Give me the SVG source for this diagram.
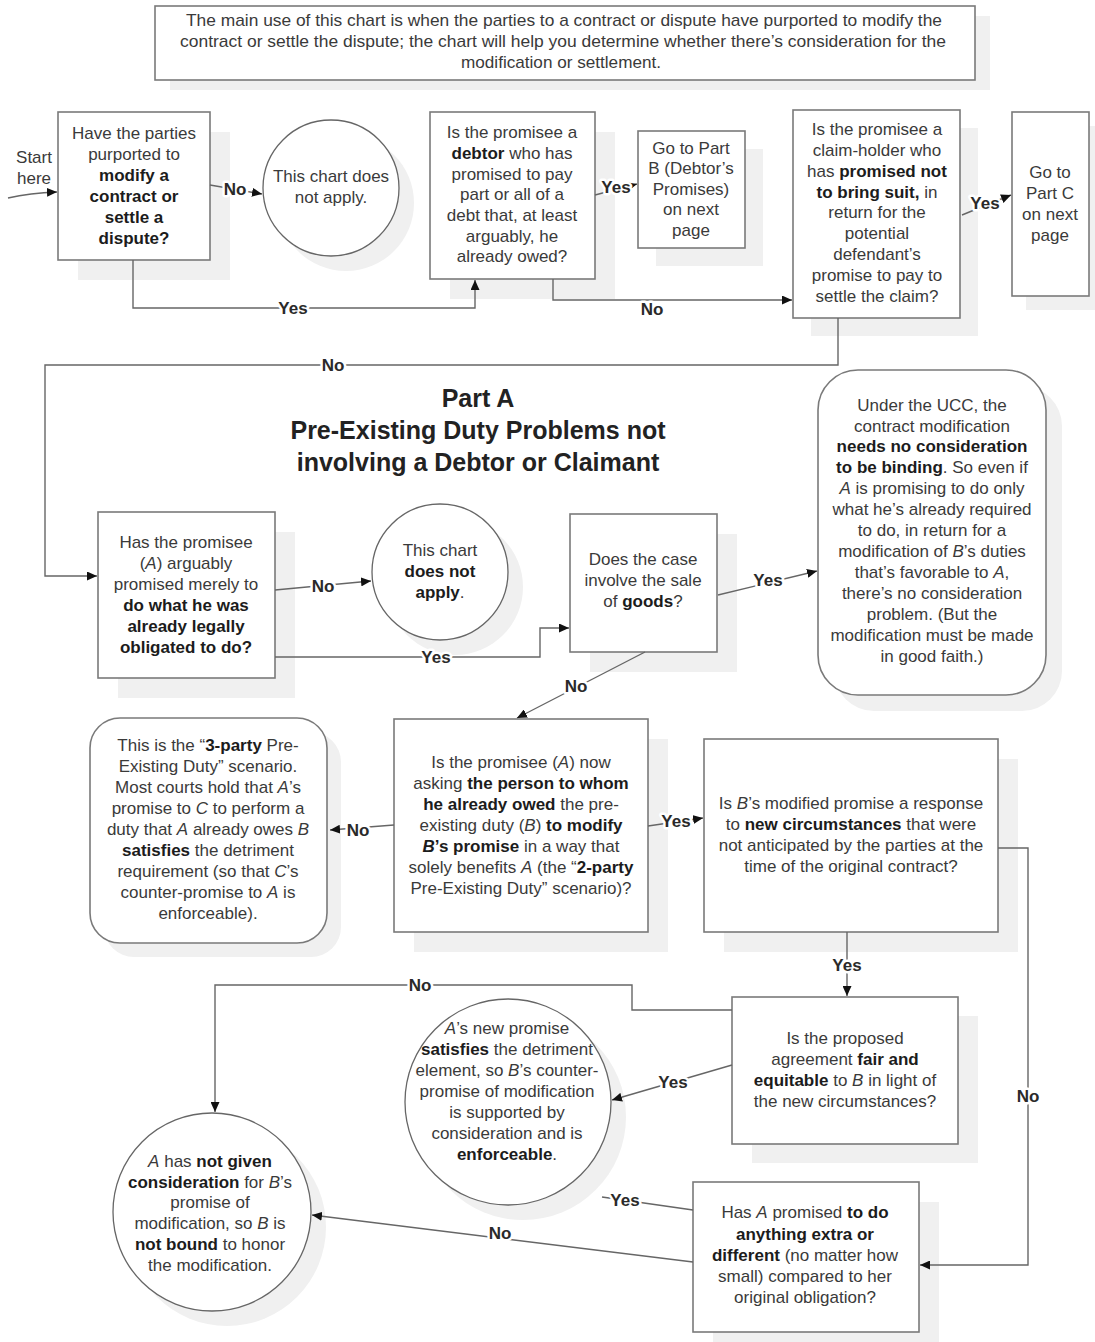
<svg xmlns="http://www.w3.org/2000/svg" width="1095" height="1342" viewBox="0 0 1095 1342">
  <defs>
    <marker id="arrow" markerUnits="userSpaceOnUse" markerWidth="11" markerHeight="9" refX="10" refY="4.5" orient="auto">
      <path d="M0,0 L10,4.5 L0,9 z" fill="#111"/>
    </marker>
    <style>
      .box { fill: #fff; stroke: #7a7a7a; stroke-width: 1.6; }
      .ring { fill: #fff; stroke: #666; stroke-width: 1.3; }
      .shadow { fill: #f0f0f0; }
      .t { font-family: "Liberation Sans", Arial, sans-serif; font-size: 17px; fill: #3a3a3a; text-anchor: middle; }
      .b { font-weight: bold; fill: #1c1c1c; }
      .i { font-style: italic; }
      .title { font-family: "Liberation Sans", Arial, sans-serif; font-size: 25px; font-weight: bold; fill: #222; text-anchor: middle; }
      .conn { fill: none; stroke: #666; stroke-width: 1.4; }
      .arr { marker-end: url(#arrow); }
      .lbl { font-family: "Liberation Sans", Arial, sans-serif; font-size: 17px; font-weight: bold; fill: #2a2a2a; text-anchor: middle; stroke: #fff; stroke-width: 5; paint-order: stroke; stroke-linejoin: round; }
    </style>
  </defs>

  <rect width="1095" height="1342" fill="#fff"/>

  <!-- intro note -->
  <g id="intro">
    <rect class="shadow" x="170" y="16" width="820" height="74"/>
    <rect class="box" x="155" y="6" width="820" height="74"/>
    <text class="t" x="564" y="26" textLength="756" lengthAdjust="spacingAndGlyphs">The main use of this chart is when the parties to a contract or dispute have purported to modify the</text>
    <text class="t" x="563" y="47" textLength="766" lengthAdjust="spacingAndGlyphs">contract or settle the dispute; the chart will help you determine whether there’s consideration for the</text>
    <text class="t" x="561" y="68" textLength="200" lengthAdjust="spacingAndGlyphs">modification or settlement.</text>
  </g>

  <g id="start">
    <text class="t" x="34" y="163">Start</text>
    <text class="t" x="34" y="184">here</text>
  </g>

  <g id="q-purported">
    <rect class="shadow" x="78" y="132" width="152" height="148"/>
    <rect class="box" x="58" y="112" width="152" height="148"/>
    <text class="t" x="134" y="139">Have the parties</text>
    <text class="t" x="134" y="160">purported to</text>
    <text class="t b" x="134" y="181">modify a</text>
    <text class="t b" x="134" y="202">contract or</text>
    <text class="t b" x="134" y="223">settle a</text>
    <text class="t b" x="134" y="244">dispute?</text>
  </g>

  <g id="end-not-apply-1">
    <circle class="shadow" cx="346" cy="203" r="68"/>
    <circle class="ring" cx="331" cy="188" r="68"/>
    <text class="t" x="331" y="182">This chart does</text>
    <text class="t" x="331" y="203">not apply.</text>
  </g>

  <g id="q-debtor">
    <rect class="shadow" x="450" y="132" width="165" height="167"/>
    <rect class="box" x="430" y="112" width="165" height="167"/>
    <text class="t" x="512" y="138">Is the promisee a</text>
    <text class="t" x="512" y="159"><tspan class="b">debtor</tspan> who has</text>
    <text class="t" x="512" y="180">promised to pay</text>
    <text class="t" x="512" y="200">part or all of a</text>
    <text class="t" x="512" y="221">debt that, at least</text>
    <text class="t" x="512" y="242">arguably, he</text>
    <text class="t" x="512" y="262">already owed?</text>
  </g>

  <g id="goto-part-b">
    <rect class="shadow" x="656" y="149" width="107" height="117"/>
    <rect class="box" x="638" y="131" width="107" height="117"/>
    <text class="t" x="691" y="154">Go to Part</text>
    <text class="t" x="691" y="174">B (Debtor’s</text>
    <text class="t" x="691" y="195">Promises)</text>
    <text class="t" x="691" y="215">on next</text>
    <text class="t" x="691" y="236">page</text>
  </g>

  <g id="q-claim-holder">
    <rect class="shadow" x="811" y="128" width="167" height="208"/>
    <rect class="box" x="793" y="110" width="167" height="208"/>
    <text class="t" x="877" y="135">Is the promisee a</text>
    <text class="t" x="877" y="156">claim-holder who</text>
    <text class="t" x="877" y="177">has <tspan class="b">promised not</tspan></text>
    <text class="t" x="877" y="198"><tspan class="b">to bring suit,</tspan> in</text>
    <text class="t" x="877" y="218">return for the</text>
    <text class="t" x="877" y="239">potential</text>
    <text class="t" x="877" y="260">defendant’s</text>
    <text class="t" x="877" y="281">promise to pay to</text>
    <text class="t" x="877" y="302">settle the claim?</text>
  </g>

  <g id="goto-part-c">
    <rect class="shadow" x="1026" y="126" width="69" height="184"/>
    <rect class="box" x="1012" y="112" width="77" height="184"/>
    <text class="t" x="1050" y="178">Go to</text>
    <text class="t" x="1050" y="199">Part C</text>
    <text class="t" x="1050" y="220">on next</text>
    <text class="t" x="1050" y="241">page</text>
  </g>

  <!-- section heading -->
  <g id="heading">
    <text class="title" x="478" y="407">Part A</text>
    <text class="title" x="478" y="439">Pre-Existing Duty Problems not</text>
    <text class="title" x="478" y="471">involving a Debtor or Claimant</text>
  </g>

  <g id="q-already-obligated">
    <rect class="shadow" x="118" y="532" width="177" height="166"/>
    <rect class="box" x="98" y="512" width="177" height="166"/>
    <text class="t" x="186" y="548">Has the promisee</text>
    <text class="t" x="186" y="569">(<tspan class="i">A</tspan>) arguably</text>
    <text class="t" x="186" y="590">promised merely to</text>
    <text class="t b" x="186" y="611">do what he was</text>
    <text class="t b" x="186" y="632">already legally</text>
    <text class="t b" x="186" y="653">obligated to do?</text>
  </g>

  <g id="end-not-apply-2">
    <circle class="shadow" cx="455" cy="587" r="68"/>
    <circle class="ring" cx="440" cy="572" r="68"/>
    <text class="t" x="440" y="556">This chart</text>
    <text class="t b" x="440" y="577">does not</text>
    <text class="t" x="440" y="598"><tspan class="b">apply</tspan>.</text>
  </g>

  <g id="q-sale-of-goods">
    <rect class="shadow" x="590" y="534" width="147" height="138"/>
    <rect class="box" x="570" y="514" width="147" height="138"/>
    <text class="t" x="643" y="565">Does the case</text>
    <text class="t" x="643" y="586">involve the sale</text>
    <text class="t" x="643" y="607">of <tspan class="b">goods</tspan>?</text>
  </g>

  <g id="ucc-note">
    <rect class="shadow" x="834" y="386" width="228" height="325" rx="40"/>
    <rect class="box" x="818" y="370" width="228" height="325" rx="40"/>
    <text class="t" x="932" y="411">Under the UCC, the</text>
    <text class="t" x="932" y="432">contract modification</text>
    <text class="t b" x="932" y="452">needs no consideration</text>
    <text class="t" x="932" y="473"><tspan class="b">to be binding</tspan>. So even if</text>
    <text class="t" x="932" y="494"><tspan class="i">A</tspan> is promising to do only</text>
    <text class="t" x="932" y="515">what he’s already required</text>
    <text class="t" x="932" y="536">to do, in return for a</text>
    <text class="t" x="932" y="557">modification of <tspan class="i">B</tspan>’s duties</text>
    <text class="t" x="932" y="578">that’s favorable to <tspan class="i">A</tspan>,</text>
    <text class="t" x="932" y="599">there’s no consideration</text>
    <text class="t" x="932" y="620">problem. (But the</text>
    <text class="t" x="932" y="641">modification must be made</text>
    <text class="t" x="932" y="662">in good faith.)</text>
  </g>

  <g id="three-party-note">
    <rect class="shadow" x="104" y="732" width="237" height="225" rx="30"/>
    <rect class="box" x="90" y="718" width="237" height="225" rx="30"/>
    <text class="t" x="208" y="751">This is the “<tspan class="b">3-party</tspan> Pre-</text>
    <text class="t" x="208" y="772">Existing Duty” scenario.</text>
    <text class="t" x="208" y="793">Most courts hold that <tspan class="i">A</tspan>’s</text>
    <text class="t" x="208" y="814">promise to <tspan class="i">C</tspan> to perform a</text>
    <text class="t" x="208" y="835">duty that <tspan class="i">A</tspan> already owes <tspan class="i">B</tspan></text>
    <text class="t" x="208" y="856"><tspan class="b">satisfies</tspan> the detriment</text>
    <text class="t" x="208" y="877">requirement (so that <tspan class="i">C</tspan>’s</text>
    <text class="t" x="208" y="898">counter-promise to <tspan class="i">A</tspan> is</text>
    <text class="t" x="208" y="919">enforceable).</text>
  </g>

  <g id="q-two-party">
    <rect class="shadow" x="414" y="739" width="254" height="213"/>
    <rect class="box" x="394" y="719" width="254" height="213"/>
    <text class="t" x="521" y="768">Is the promisee (<tspan class="i">A</tspan>) now</text>
    <text class="t" x="521" y="789">asking <tspan class="b">the person to whom</tspan></text>
    <text class="t" x="521" y="810"><tspan class="b">he already owed</tspan> the pre-</text>
    <text class="t" x="521" y="831">existing duty (<tspan class="i">B</tspan>) <tspan class="b">to modify</tspan></text>
    <text class="t" x="521" y="852"><tspan class="b"><tspan class="i">B</tspan>’s promise</tspan> in a way that</text>
    <text class="t" x="521" y="873">solely benefits <tspan class="i">A</tspan> (the “<tspan class="b">2-party</tspan></text>
    <text class="t" x="521" y="894">Pre-Existing Duty” scenario)?</text>
  </g>

  <g id="q-new-circumstances">
    <rect class="shadow" x="724" y="759" width="294" height="193"/>
    <rect class="box" x="704" y="739" width="294" height="193"/>
    <text class="t" x="851" y="809">Is <tspan class="i">B</tspan>’s modified promise a response</text>
    <text class="t" x="851" y="830">to <tspan class="b">new circumstances</tspan> that were</text>
    <text class="t" x="851" y="851">not anticipated by the parties at the</text>
    <text class="t" x="851" y="872">time of the original contract?</text>
  </g>

  <g id="q-fair-equitable">
    <rect class="shadow" x="752" y="1016" width="226" height="147"/>
    <rect class="box" x="732" y="997" width="226" height="147"/>
    <text class="t" x="845" y="1044">Is the proposed</text>
    <text class="t" x="845" y="1065">agreement <tspan class="b">fair and</tspan></text>
    <text class="t" x="845" y="1086"><tspan class="b">equitable</tspan> to <tspan class="i">B</tspan> in light of</text>
    <text class="t" x="845" y="1107">the new circumstances?</text>
  </g>

  <g id="end-enforceable">
    <circle class="shadow" cx="523" cy="1117" r="103"/>
    <circle class="ring" cx="508" cy="1102" r="103"/>
    <text class="t" x="507" y="1034"><tspan class="i">A</tspan>’s new promise</text>
    <text class="t" x="507" y="1055"><tspan class="b">satisfies</tspan> the detriment</text>
    <text class="t" x="507" y="1076">element, so <tspan class="i">B</tspan>’s counter-</text>
    <text class="t" x="507" y="1097">promise of modification</text>
    <text class="t" x="507" y="1118">is supported by</text>
    <text class="t" x="507" y="1139">consideration and is</text>
    <text class="t" x="507" y="1160"><tspan class="b">enforceable</tspan>.</text>
  </g>

  <g id="end-not-bound">
    <circle class="shadow" cx="227" cy="1227" r="99"/>
    <circle class="ring" cx="212" cy="1212" r="99"/>
    <text class="t" x="210" y="1167"><tspan class="i">A</tspan> has <tspan class="b">not given</tspan></text>
    <text class="t" x="210" y="1188"><tspan class="b">consideration</tspan> for <tspan class="i">B</tspan>’s</text>
    <text class="t" x="210" y="1208">promise of</text>
    <text class="t" x="210" y="1229">modification, so <tspan class="i">B</tspan> is</text>
    <text class="t" x="210" y="1250"><tspan class="b">not bound</tspan> to honor</text>
    <text class="t" x="210" y="1271">the modification.</text>
  </g>

  <g id="q-extra-different">
    <rect class="shadow" x="713" y="1202" width="226" height="150"/>
    <rect class="box" x="693" y="1182" width="226" height="150"/>
    <text class="t" x="805" y="1218">Has <tspan class="i">A</tspan> promised <tspan class="b">to do</tspan></text>
    <text class="t b" x="805" y="1240">anything extra or</text>
    <text class="t" x="805" y="1261"><tspan class="b">different</tspan> (no matter how</text>
    <text class="t" x="805" y="1282">small) compared to her</text>
    <text class="t" x="805" y="1303">original obligation?</text>
  </g>

  <!-- connectors -->
  <g id="connectors">
    <path class="conn arr" d="M8,198 Q30,193 57,192"/>
    <path class="conn arr" d="M210,185 L262,194"/>
    <path class="conn arr" d="M133,260 V308 H475 V280"/>
    <path class="conn arr" d="M595,195 L637,184"/>
    <path class="conn arr" d="M553,279 V300 H792"/>
    <path class="conn arr" d="M962,215 L1011,195"/>
    <path class="conn arr" d="M838,318 V365 H45 V576 H97"/>
    <path class="conn arr" d="M275,590 L371,581"/>
    <path class="conn arr" d="M275,657 H540 V628 H569"/>
    <path class="conn arr" d="M718,595 L817,571"/>
    <path class="conn arr" d="M645,652 L517,718"/>
    <path class="conn arr" d="M394,825 L330,830"/>
    <path class="conn arr" d="M648,826 L703,818"/>
    <path class="conn arr" d="M847,932 V996"/>
    <path class="conn arr" d="M998,848 H1028 V1265 H920"/>
    <path class="conn arr" d="M732,1010 H632 V985 H215 V1112"/>
    <path class="conn arr" d="M732,1065 L612,1100"/>
    <path class="conn" d="M693,1210 L602,1197"/>
    <path class="conn arr" d="M693,1262 L312,1215"/>

    <text class="lbl" x="235" y="195">No</text>
    <text class="lbl" x="293" y="314">Yes</text>
    <text class="lbl" x="616" y="193">Yes</text>
    <text class="lbl" x="652" y="315">No</text>
    <text class="lbl" x="985" y="209">Yes</text>
    <text class="lbl" x="333" y="371">No</text>
    <text class="lbl" x="323" y="592">No</text>
    <text class="lbl" x="436" y="663">Yes</text>
    <text class="lbl" x="768" y="586">Yes</text>
    <text class="lbl" x="576" y="692">No</text>
    <text class="lbl" x="358" y="836">No</text>
    <text class="lbl" x="676" y="827">Yes</text>
    <text class="lbl" x="847" y="971">Yes</text>
    <text class="lbl" x="1028" y="1102">No</text>
    <text class="lbl" x="420" y="991">No</text>
    <text class="lbl" x="673" y="1088">Yes</text>
    <text class="lbl" x="625" y="1206">Yes</text>
    <text class="lbl" x="500" y="1239">No</text>
  </g>
</svg>
